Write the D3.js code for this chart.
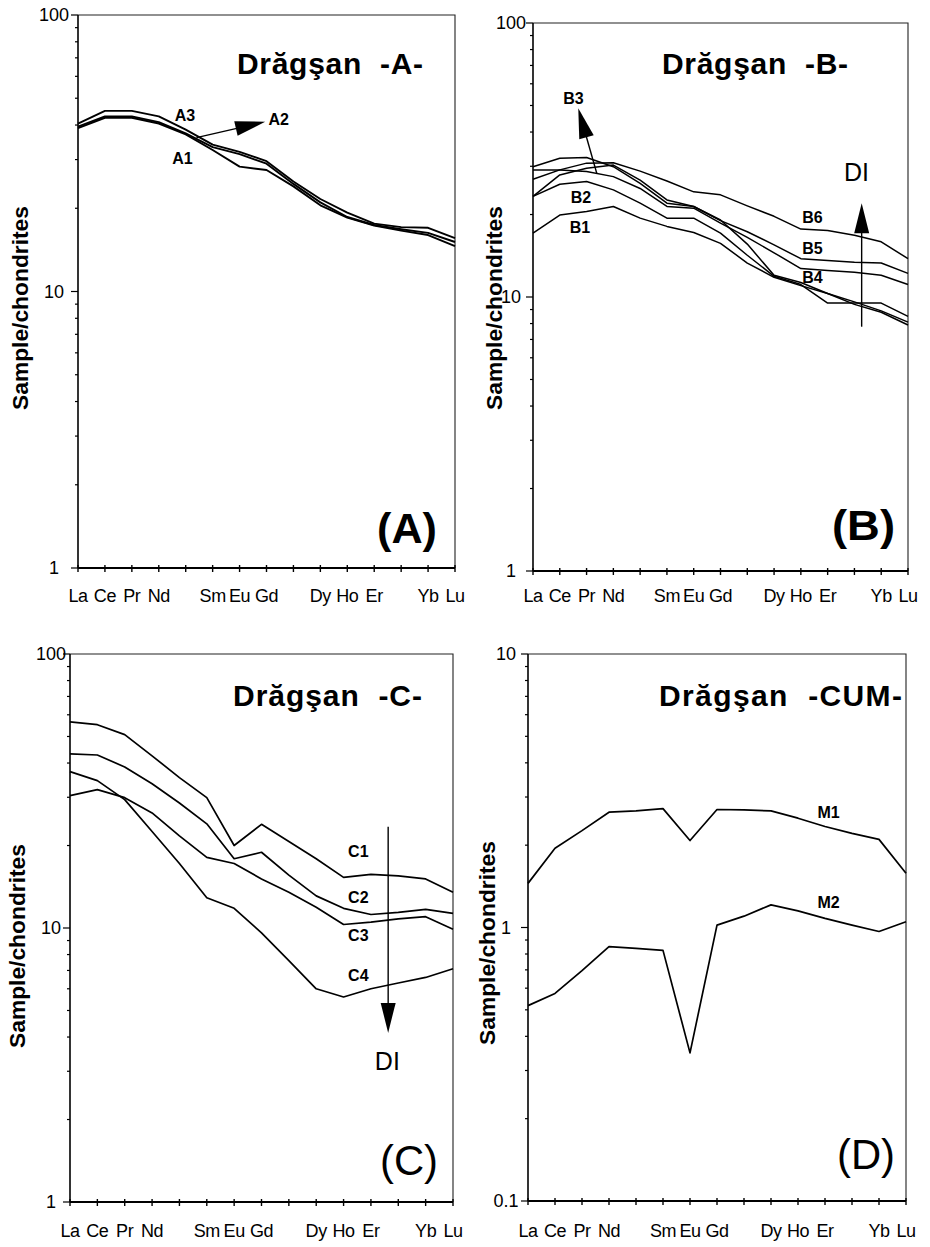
<!DOCTYPE html>
<html><head><meta charset="utf-8">
<script src="https://cdn.jsdelivr.net/npm/d3@7"></script>
<style>
body{margin:0;background:#fff}
svg{display:block}
text{font-family:"Liberation Sans",Arial,Helvetica,sans-serif;fill:#000}
</style>
</head><body>
<svg id="chart" width="930" height="1247"></svg>
<script>
// ---------- DATA ----------
const elements = ["La","Ce","Pr","Nd","Pm","Sm","Eu","Gd","Tb","Dy","Ho","Er","Tm","Yb","Lu"];
const xTickLabels = ["La","Ce","Pr","Nd","","Sm","Eu","Gd","","Dy","Ho","Er","","Yb","Lu"];
const yTicksMain = [1, 10, 100];
const yTickLabelsMain = ["1", "10", "100"];
const yTicksCum = [0.1, 1, 10];
const yTickLabelsCum = ["0.1", "1", "10"];

// Panel A
const A1 = [39, 42.5, 42.5, 40.5, 37, 32.5, 28.3, 27.5, 24, 20.5, 18.5, 17.3, 16.6, 16.0, 14.6];
const A2 = [39.5, 43, 43, 41, 37.3, 33.3, 31.4, 29, 24.5, 21, 18.6, 17.4, 16.8, 16.3, 15.1];
const A3 = [40.5, 45, 45, 43, 38.5, 34, 32, 29.6, 25, 21.6, 19.3, 17.6, 17.1, 17.0, 15.6];
// Panel B
const B1 = [17.1, 19.9, 20.5, 21.4, 19.4, 18.1, 17.2, 15.7, 13.3, 11.8, 11.0, 10.3, 9.4, 8.8, 7.9];
const B2 = [23.3, 25.8, 26.4, 24.6, 22.0, 19.4, 19.4, 17.1, 14.2, 11.9, 11.1, 9.5, 9.5, 9.5, 8.5];
const B3 = [23.3, 27.9, 29.5, 30.3, 26.7, 22.6, 21.4, 19.1, 15.6, 12.0, 11.3, 10.3, 9.6, 8.9, 8.1];
const B4 = [29.1, 29.1, 28.7, 27.5, 24.9, 21.4, 21.1, 18.6, 16.5, 14.5, 12.7, 12.5, 12.3, 12.0, 11.1];
const B5 = [29.9, 32.1, 32.3, 29.9, 26.0, 22.0, 21.4, 19.0, 17.3, 15.5, 13.8, 13.6, 13.4, 13.3, 12.2];
const B6 = [26.9, 29.1, 30.8, 30.9, 28.8, 26.5, 24.2, 23.6, 21.5, 19.7, 17.7, 17.5, 16.8, 15.9, 13.8];
// Panel C
const C1 = [56.5, 55.2, 50.8, 42.5, 35.4, 29.9, 20.0, 23.9, 20.7, 17.9, 15.3, 15.7, 15.5, 15.1, 13.5];
const C2 = [43.2, 42.8, 38.7, 33.6, 28.6, 24.0, 17.9, 18.9, 15.6, 13.1, 11.8, 11.2, 11.4, 11.7, 11.3];
const C3 = [30.4, 32.0, 29.9, 26.3, 21.7, 18.1, 17.2, 15.1, 13.5, 11.9, 10.3, 10.5, 10.8, 11.0, 9.9];
const C4 = [37.2, 34.5, 29.4, 22.5, 17.2, 12.9, 11.8, 9.6, 7.6, 6.0, 5.6, 6.0, 6.3, 6.6, 7.1];
// Panel D (cumulates)
const M1 = [1.45, 1.95, 2.26, 2.64, 2.67, 2.72, 2.08, 2.70, 2.69, 2.67, 2.51, 2.34, 2.21, 2.10, 1.58];
const M2 = [0.518, 0.574, 0.695, 0.851, 0.839, 0.825, 0.348, 1.02, 1.10, 1.21, 1.15, 1.08, 1.02, 0.967, 1.05];

// Annotations in data space (element index, value)
const labelsA = [{t:"A3", i:3.97, v:43.5}, {t:"A2", i:7.45, v:42.1}, {t:"A1", i:3.88, v:30.4}];
const labelsB = [{t:"B3", i:1.51, v:53.0}, {t:"B2", i:1.79, v:23.1}, {t:"B1", i:1.75, v:17.9},
                 {t:"B6", i:10.43, v:19.5}, {t:"B5", i:10.43, v:15.1}, {t:"B4", i:10.43, v:11.8}];
const labelsC = [{t:"C1", i:10.54, v:19.1}, {t:"C2", i:10.54, v:12.9}, {t:"C3", i:10.54, v:9.43}, {t:"C4", i:10.54, v:6.74}];
const labelsD = [{t:"M1", i:11.13, v:2.65}, {t:"M2", i:11.13, v:1.24}];
const arrowsA = [{from:[4.4, 36.0], to:[6.95, 41.1]}];
const arrowsB = [{from:[2.38, 28.3], to:[1.69, 48.8]}, {from:[12.27, 7.79], to:[12.27, 22.0]}];
const arrowsC = [{from:[11.63, 23.4], to:[11.63, 4.14]}];
const diB = {i:12.08, v:28.5};
const diC = {i:11.6, v:3.26};

// ---------- LAYOUT ----------
const panels = [
  {series:[A1,A2,A3], labels:labelsA, arrows:arrowsA, di:null, domain:[1,100], ticks:yTicksMain, tickLabels:yTickLabelsMain,
   x0:78, x1:455, yTop:15, yBot:568, yLabelX:54, yTitleX:20, yTitleY:308, xLabelY:602,
   title:"Drăgşan  -A-", titleX:237, titleY:74, titleW:186, letter:"(A)", letterBold:true, letterX:377, letterY:543, letterW:60, lw:1.9},
  {series:[B1,B2,B3,B4,B5,B6], labels:labelsB, arrows:arrowsB, di:diB, domain:[1,100], ticks:yTicksMain, tickLabels:yTickLabelsMain,
   x0:533, x1:908, yTop:23, yBot:571, yLabelX:511, yTitleX:494, yTitleY:308, xLabelY:602,
   title:"Drăgşan  -B-", titleX:662, titleY:74, titleW:186, letter:"(B)", letterBold:true, letterX:832, letterY:540, letterW:63, lw:1.5},
  {series:[C1,C2,C3,C4], labels:labelsC, arrows:arrowsC, di:diC, domain:[1,100], ticks:yTicksMain, tickLabels:yTickLabelsMain,
   x0:70, x1:453, yTop:654, yBot:1202, yLabelX:51, yTitleX:17, yTitleY:946, xLabelY:1237,
   title:"Drăgşan  -C-", titleX:233, titleY:706, titleW:189, letter:"(C)", letterBold:false, letterX:380, letterY:1175, letterW:58, lw:1.7},
  {series:[M1,M2], labels:labelsD, arrows:[], di:null, domain:[0.1,10], ticks:yTicksCum, tickLabels:yTickLabelsCum,
   x0:528, x1:906, yTop:654, yBot:1201, yLabelX:506, yTitleX:487, yTitleY:943, xLabelY:1237,
   title:"Drăgşan  -CUM-", titleX:659, titleY:706, titleW:243, letter:"(D)", letterBold:false, letterX:837, letterY:1169, letterW:58, lw:1.7}
];

const svg = d3.select("#chart");
svg.append("rect").attr("width",930).attr("height",1247).attr("fill","#fff");

function arrow(g, x1, y1, x2, y2, headLen, halfW) {
  const dx = x2 - x1, dy = y2 - y1, L = Math.hypot(dx, dy), ux = dx / L, uy = dy / L;
  const bx = x2 - ux * headLen, by = y2 - uy * headLen;
  g.append("line").attr("x1", x1).attr("y1", y1).attr("x2", bx + ux*2).attr("y2", by + uy*2)
    .attr("stroke", "#000").attr("stroke-width", 1.4);
  g.append("path").attr("d", `M${x2},${y2}L${bx - uy*halfW},${by + ux*halfW}L${bx + uy*halfW},${by - ux*halfW}Z`)
    .attr("fill", "#000");
}

panels.forEach(p => {
  const g = svg.append("g");
  const x = d3.scalePoint().domain(elements).range([p.x0, p.x1]);
  const xi = d3.scaleLinear().domain([0, elements.length - 1]).range([p.x0, p.x1]);
  const y = d3.scaleLog().domain(p.domain).range([p.yBot, p.yTop]);

  // frame (top/right)
  g.append("path").attr("d", `M${p.x0},${p.yTop}H${p.x1}V${p.yBot}`)
    .attr("fill", "none").attr("stroke", "#222").attr("stroke-width", 1.1);

  // y ticks (major + minor)
  y.ticks().forEach(t => {
    const lg = Math.log10(t);
    const major = Math.abs(lg - Math.round(lg)) < 1e-6;
    g.append("line").attr("x1", p.x0 - (major ? 7 : 3)).attr("x2", p.x0)
      .attr("y1", y(t)).attr("y2", y(t)).attr("stroke", "#000").attr("stroke-width", 1.2);
  });
  // y axis
  g.append("line").attr("x1", p.x0).attr("x2", p.x0).attr("y1", p.yTop).attr("y2", p.yBot)
    .attr("stroke", "#000").attr("stroke-width", 1.6);
  // x axis
  g.append("line").attr("x1", p.x0).attr("x2", p.x1).attr("y1", p.yBot).attr("y2", p.yBot)
    .attr("stroke", "#000").attr("stroke-width", 1.8);
  elements.forEach(e => {
    g.append("line").attr("x1", x(e)).attr("x2", x(e)).attr("y1", p.yBot - 3).attr("y2", p.yBot + 4)
      .attr("stroke", "#000").attr("stroke-width", 1.4);
  });
  // x labels
  elements.forEach((e, i) => {
    if (!xTickLabels[i]) return;
    g.append("text").attr("x", x(e)).attr("y", p.xLabelY).attr("text-anchor", "middle")
      .attr("font-size", 18).attr("letter-spacing", -0.4).text(xTickLabels[i]);
  });
  // y labels
  p.ticks.forEach((t, k) => {
    g.append("text").attr("x", p.yLabelX).attr("y", y(t) + 6).attr("text-anchor", "middle")
      .attr("font-size", 18).text(p.tickLabels[k]);
  });
  // y title
  g.append("text").attr("transform", `translate(${p.yTitleX},${p.yTitleY}) rotate(-90)`)
    .attr("text-anchor", "middle").attr("dy", "0.35em").attr("font-size", 22).attr("font-weight", "bold")
    .attr("textLength", 204).attr("lengthAdjust", "spacingAndGlyphs").text("Sample/chondrites");

  // series lines
  const line = d3.line().x((d, i) => x(elements[i])).y(d => y(d));
  p.series.forEach(s => {
    g.append("path").attr("d", line(s)).attr("fill", "none").attr("stroke", "#000")
      .attr("stroke-width", p.lw).attr("stroke-linejoin", "round");
  });

  // labels
  p.labels.forEach(l => {
    g.append("text").attr("x", xi(l.i)).attr("y", y(l.v)).attr("dy", "0.36em").attr("text-anchor", "middle")
      .attr("font-size", 16).attr("font-weight", "bold").text(l.t);
  });
  // arrows
  p.arrows.forEach(a => {
    arrow(g, xi(a.from[0]), y(a.from[1]), xi(a.to[0]), y(a.to[1]), 30, 7.5);
  });
  if (p.di) {
    g.append("text").attr("x", xi(p.di.i)).attr("y", y(p.di.v)).attr("dy", "0.36em").attr("text-anchor", "middle")
      .attr("font-size", 25).text("DI");
  }
  // title
  g.append("text").attr("x", p.titleX).attr("y", p.titleY).attr("font-size", 30).attr("font-weight", "bold")
    .attr("textLength", p.titleW).attr("lengthAdjust", "spacing").style("white-space", "pre").text(p.title);
  // panel letter
  g.append("text").attr("x", p.letterX).attr("y", p.letterY).attr("font-size", 43)
    .attr("font-weight", p.letterBold ? "bold" : "normal")
    .attr("textLength", p.letterW).attr("lengthAdjust", "spacingAndGlyphs").text(p.letter);
});
</script>
</body></html>
